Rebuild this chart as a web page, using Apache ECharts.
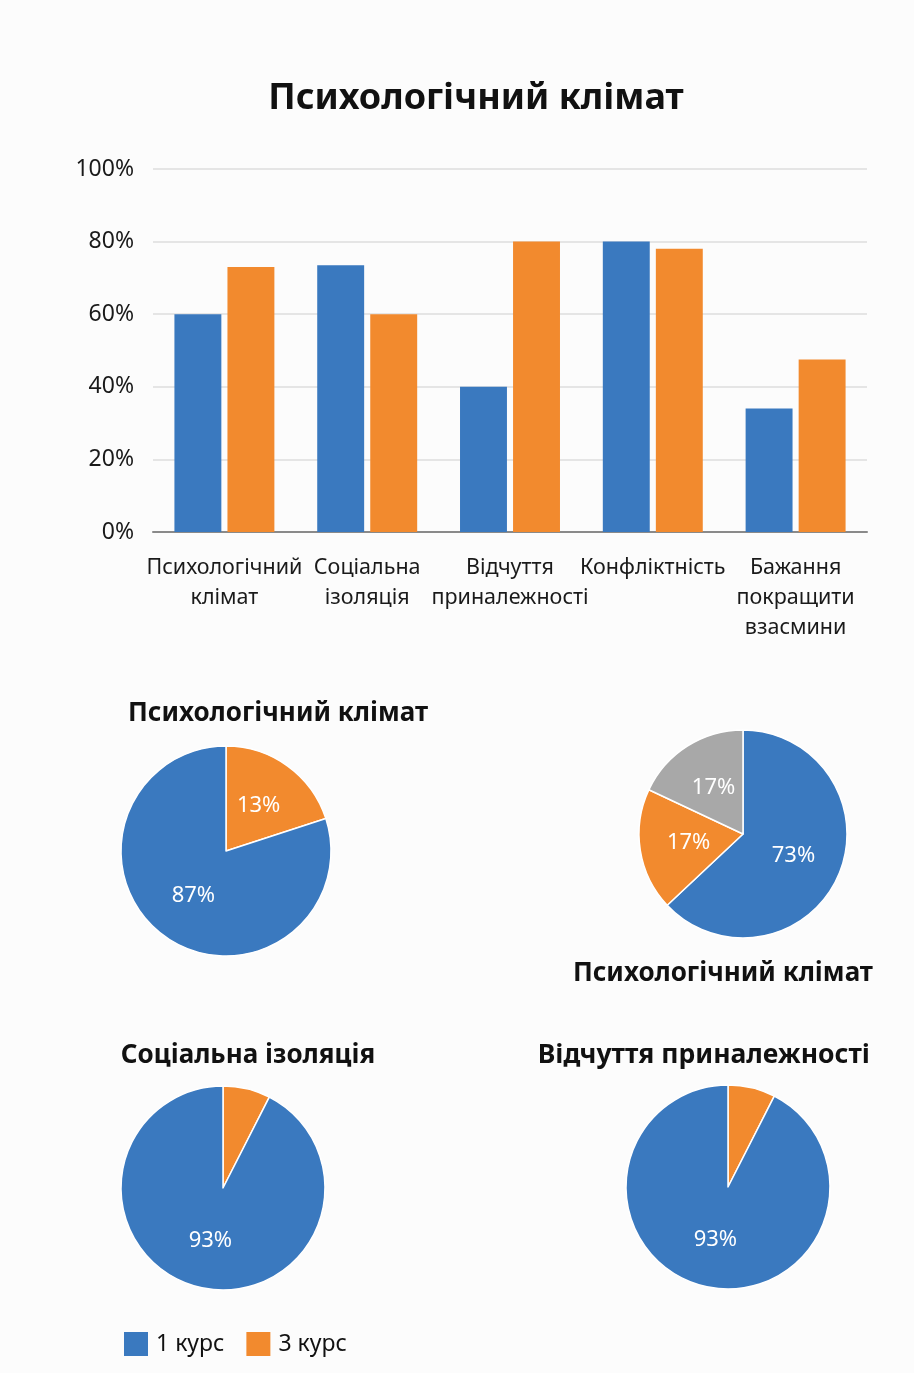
<!DOCTYPE html>
<html lang="uk">
<head>
    <meta charset="UTF-8">
    <title>Психологічний клімат</title>
    <style>
        * { margin: 0; padding: 0; box-sizing: border-box; }
        body { background: #fcfcfc; }
        #chart { width: 914px; height: 1373px; }
    </style>
</head>
<body>
    <div id="chart"></div>

    <script src="https://cdn.jsdelivr.net/npm/echarts@6/dist/echarts.min.js"></script>
    <script>
        // Bar chart data
        const categories = ['Психологічний\nклімат', 'Соціальна\nізоляція', 'Відчуття\nприналежності', 'Конфліктність', 'Бажання\nпокращити\nвзасмини'];
        const course1 = [60, 73.5, 40, 80, 34];
        const course3 = [73, 60, 80, 78, 47.5];
        const yTicks = [0, 20, 40, 60, 80, 100];

        // Pie data (slice shares as drawn, printed labels as written)
        const pie1Names = ['3 курс', '1 курс'];
        const pie1Values = [20, 80];
        const pie1Labels = ['13%', '87%'];

        const pie2Names = ['1 курс', '3 курс', 'інше'];
        const pie2Values = [63, 19, 18];
        const pie2Labels = ['73%', '17%', '17%'];

        const pie3Names = ['3 курс', '1 курс'];
        const pie3Values = [7.5, 92.5];
        const pie3Labels = ['', '93%'];

        const pie4Names = ['3 курс', '1 курс'];
        const pie4Values = [7.5, 92.5];
        const pie4Labels = ['', '93%'];

        const BLUE = '#3a79bf';
        const ORANGE = '#f28a2e';
        const GRAY = '#a8a8a8';
        const FONT = '"Noto Sans", sans-serif';
        const colorOf = { '1 курс': BLUE, '3 курс': ORANGE, 'інше': GRAY };

        function pieSeries(names, values, labels, center, radius) {
            return {
                type: 'pie',
                center: center,
                radius: radius,
                startAngle: 90,
                clockwise: true,
                legendHoverLink: false,
                silent: true,
                itemStyle: { borderColor: '#ffffff', borderWidth: 1.5 },
                label: {
                    show: true,
                    position: 'inside',
                    color: '#ffffff',
                    fontSize: 22,
                    fontFamily: FONT,
                    formatter: p => labels[p.dataIndex]
                },
                labelLine: { show: false },
                data: names.map((n, i) => ({
                    name: n,
                    value: values[i],
                    itemStyle: { color: colorOf[n] }
                }))
            };
        }

        const subTitle = { fontSize: 26, fontWeight: 'bold', color: '#111', fontFamily: FONT };

        const chart = echarts.init(document.getElementById('chart'));

        chart.setOption({
            backgroundColor: '#fcfcfc',
            animation: false,
            textStyle: { fontFamily: FONT },
            title: [
                { text: 'Психологічний клімат', left: 471, top: 76, textAlign: 'center',
                  textStyle: { fontSize: 36, fontWeight: 'bold', color: '#111', fontFamily: FONT } },
                { text: 'Психологічний клімат', left: 273, top: 696, textAlign: 'center', textStyle: subTitle },
                { text: 'Психологічний клімат', right: 36, top: 956, textStyle: subTitle },
                { text: 'Соціальна ізоляція', left: 243, top: 1038, textAlign: 'center', textStyle: subTitle },
                { text: 'Відчуття приналежності', right: 39, top: 1037,
                  textStyle: Object.assign({}, subTitle, { fontSize: 26.5 }) }
            ],
            legend: {
                data: ['1 курс', '3 курс'],
                left: 119,
                top: 1327,
                itemWidth: 24,
                itemHeight: 24,
                itemGap: 22,
                icon: 'rect',
                selectedMode: false,
                textStyle: { fontSize: 23, color: '#111', fontFamily: FONT, padding: [0, 0, 0, 3] }
            },
            grid: {
                left: 153,
                top: 169,
                width: 714,
                height: 363,
                containLabel: false
            },
            xAxis: {
                type: 'category',
                data: categories,
                axisTick: { show: false },
                axisLine: { lineStyle: { color: '#8a8a8a', width: 2 } },
                axisLabel: {
                    interval: 0,
                    margin: 21,
                    fontSize: 21.5,
                    lineHeight: 30,
                    color: '#1a1a1a',
                    fontFamily: FONT,
                    align: 'center'
                }
            },
            yAxis: {
                type: 'value',
                min: yTicks[0],
                max: yTicks[yTicks.length - 1],
                interval: 20,
                axisLine: { show: false },
                axisTick: { show: false },
                splitLine: { lineStyle: { color: '#dedede', width: 1.5 } },
                axisLabel: {
                    formatter: '{value}%',
                    fontSize: 23,
                    color: '#1a1a1a',
                    margin: 19,
                    fontFamily: FONT
                }
            },
            series: [
                {
                    name: '1 курс',
                    type: 'bar',
                    data: course1,
                    barGap: '13%',
                    barCategoryGap: '30%',
                    itemStyle: { color: BLUE }
                },
                {
                    name: '3 курс',
                    type: 'bar',
                    data: course3,
                    itemStyle: { color: ORANGE }
                },
                pieSeries(pie1Names, pie1Values, pie1Labels, [226, 851], 105),
                pieSeries(pie2Names, pie2Values, pie2Labels, [743, 834], 104),
                pieSeries(pie3Names, pie3Values, pie3Labels, [223, 1188], 102),
                pieSeries(pie4Names, pie4Values, pie4Labels, [728, 1187], 102)
            ]
        });
    </script>
</body>
</html>
